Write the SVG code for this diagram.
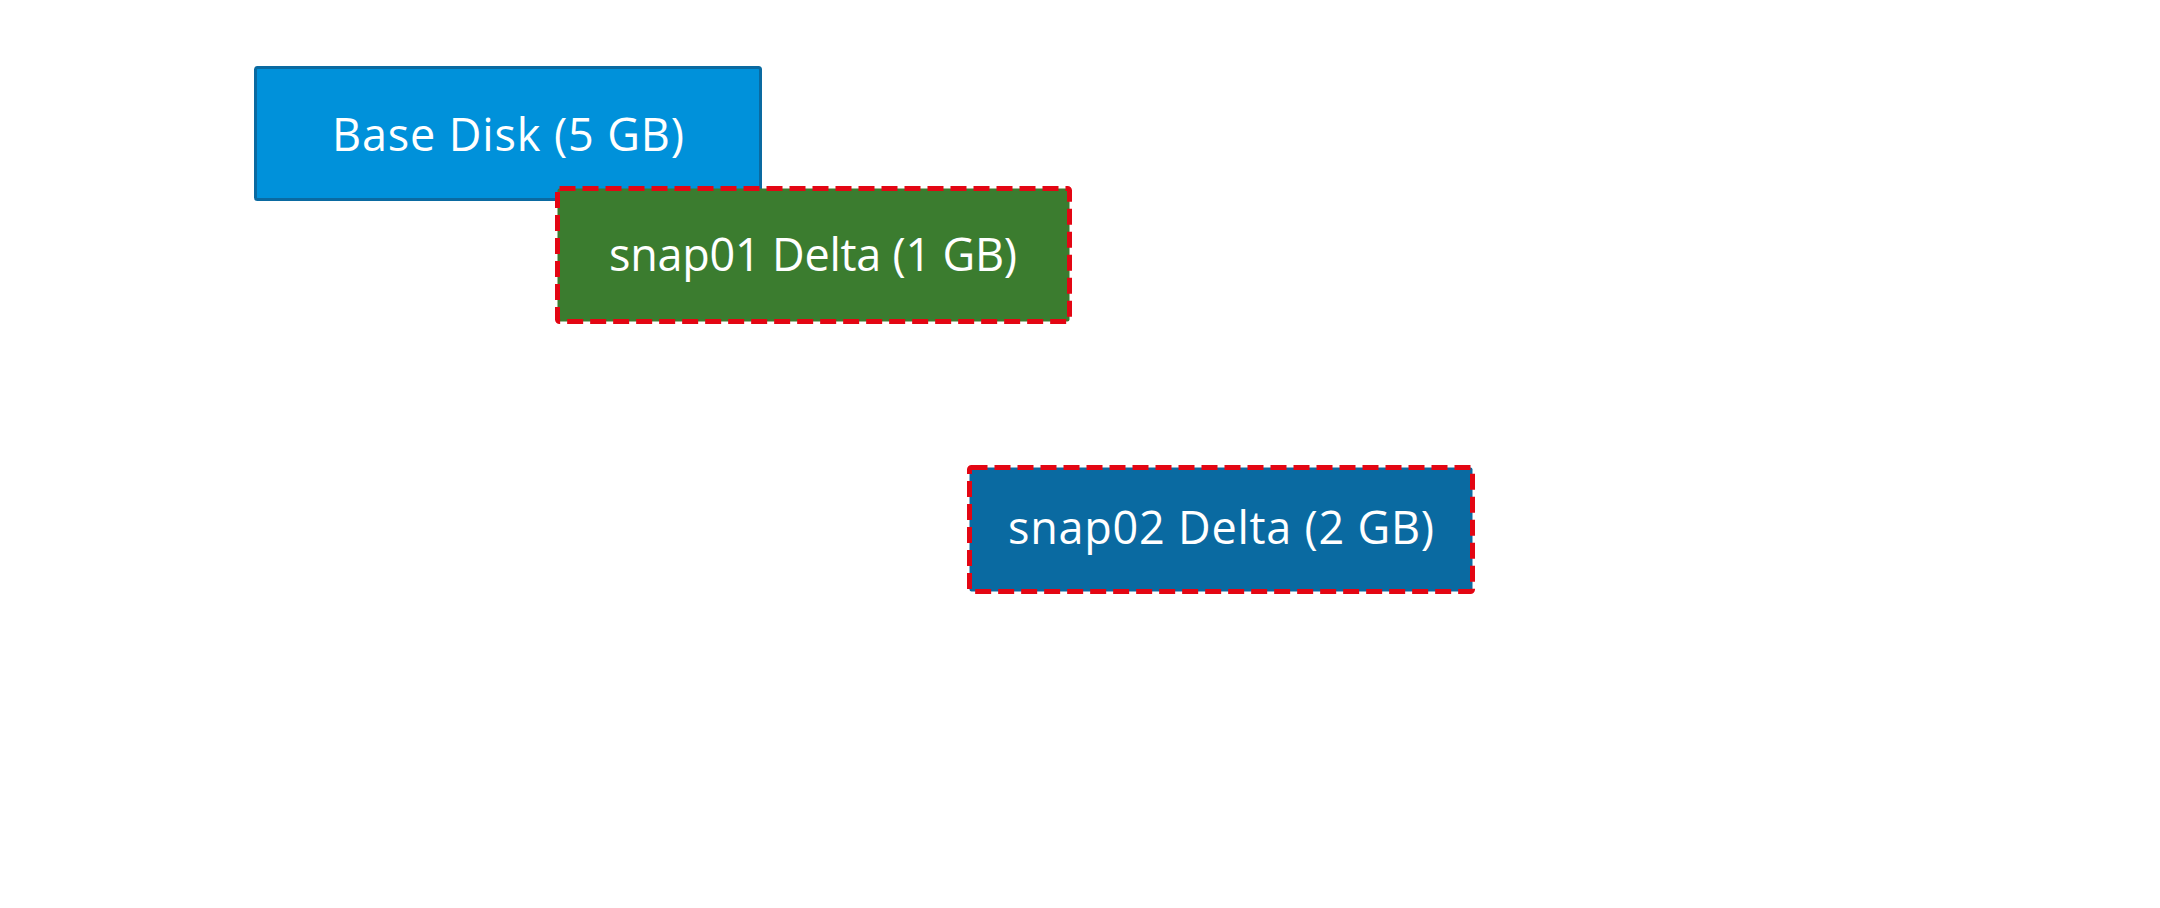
<svg xmlns="http://www.w3.org/2000/svg" width="2160" height="908" viewBox="0 0 2160 908">
<style>
.lbl{font-family:"Open Sans","Liberation Sans",sans-serif;font-size:45px;fill:#ffffff;text-anchor:middle}
.delta{stroke:#e30613;stroke-width:5;stroke-dasharray:16 7}
</style>
<rect width="2160" height="908" fill="#ffffff"/>
<g id="connectors"></g>
<g id="base">
<rect x="255.5" y="67.5" width="505" height="132" rx="2" fill="#0091da" stroke="#0a6aa1" stroke-width="3"/>
<text class="lbl" x="508" y="151" textLength="352" lengthAdjust="spacing">Base Disk (5 GB)</text>
</g>
<g id="snap01">
<rect class="delta" x="557.5" y="188.5" width="512" height="133" rx="2" fill="#3b7c2f"/>
<text class="lbl" x="813" y="271" textLength="408" lengthAdjust="spacing">snap01 Delta (1 GB)</text>
</g>
<g id="snap02">
<rect class="delta" x="969.5" y="467.5" width="503" height="124" rx="2" fill="#0a6aa1"/>
<text class="lbl" x="1221" y="544" textLength="426" lengthAdjust="spacing">snap02 Delta (2 GB)</text>
</g>
</svg>
